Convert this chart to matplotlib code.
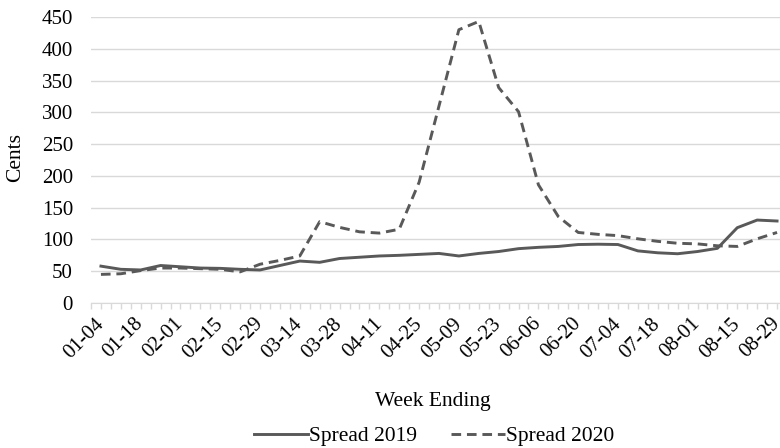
import matplotlib
matplotlib.use('Agg')
import matplotlib.pyplot as plt
from matplotlib.ticker import MultipleLocator

plt.rcParams['font.family'] = ['Liberation Serif', 'DejaVu Serif']

# week ending labels (weekly, 2020)
weeks = ['01-04', '01-11', '01-18', '01-25', '02-01', '02-08', '02-15', '02-22',
         '02-29', '03-07', '03-14', '03-21', '03-28', '04-04', '04-11', '04-18',
         '04-25', '05-02', '05-09', '05-16', '05-23', '05-30', '06-06', '06-13',
         '06-20', '06-27', '07-04', '07-11', '07-18', '07-25', '08-01', '08-08',
         '08-15', '08-22', '08-29']

spread_2019 = [58, 53, 52, 59, 57, 55, 54.5, 53, 52, 59, 66, 64, 70, 72, 74, 75,
               76.5, 78, 74, 78, 81, 85.5, 87.6, 89, 92, 92.5, 92, 82, 79, 77.5,
               81, 86, 118.5, 130.5, 129]
spread_2020 = [45, 46, 51, 55, 55, 54, 53, 49, 61, 67, 74, 128, 119, 112, 110, 116,
               190, 310, 430, 443, 339, 301, 186, 136, 111, 108, 106, 101, 97, 94,
               93, 90, 89, 101, 111]

col = '#595959'
grid = '#d9d9d9'

fig = plt.figure(figsize=(7.8, 4.48), dpi=100)
ax = fig.add_axes([91/780, 1-303/448, (787-91)/780, 286/448])

x = list(range(len(weeks)))
ax.plot(x, spread_2019, color=col, lw=2.1, label='Spread 2019')
ax.plot(x, spread_2020, color=col, lw=2.1, linestyle=(0, (3.3, 2.0)), label='Spread 2020')

ax.set_xlim(-0.5, len(weeks) - 0.5)
ax.set_ylim(0, 450)
ax.yaxis.set_major_locator(MultipleLocator(50))
ax.grid(axis='y', color=grid, lw=1)
ax.set_axisbelow(True)

ax.set_xticks(x[::2])
ax.set_xticklabels(weeks[::2], rotation=45, ha='right', va='center',
                   rotation_mode='anchor', fontsize=15)
ax.xaxis.set_minor_locator(MultipleLocator(0.5))
ax.tick_params(axis='x', which='both', length=4, color=grid, width=1, pad=9)
ax.tick_params(axis='y', length=0, labelsize=15, pad=13)

for s in ['top', 'right', 'left']:
    ax.spines[s].set_visible(False)
ax.spines['bottom'].set_color(grid)

fig.text(16/780, 1-158/448, 'Cents', rotation=90, ha='center', va='center', fontsize=15.5)
fig.text(433/780, 1-401/448, 'Week Ending', ha='center', va='center', fontsize=15.5)
fig.legend(loc='center', bbox_to_anchor=(434/780, 1-436/448), ncol=2, frameon=False,
           fontsize=15.5, handlelength=2.5, handletextpad=0.05, columnspacing=1.6)

fig.savefig('out.png', dpi=100)
